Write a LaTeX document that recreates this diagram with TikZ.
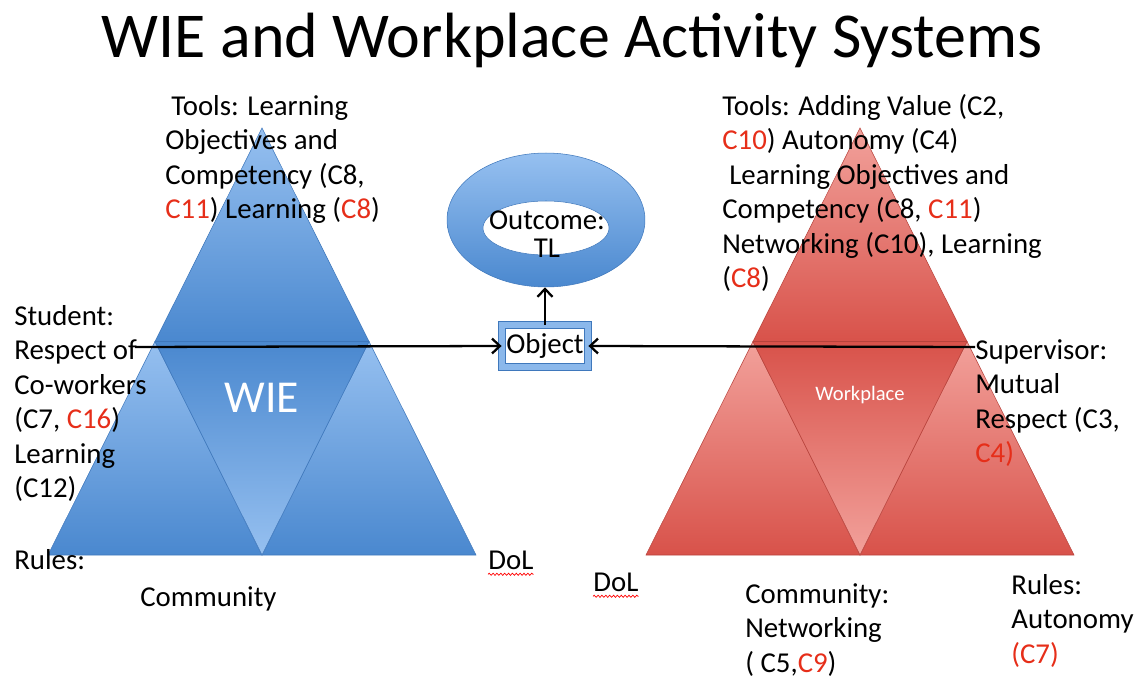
\documentclass[tikz,border=0pt]{standalone}
\usepackage{fontspec}
\setmainfont{Carlito}
\usepackage{xcolor}
\usetikzlibrary{arrows.meta, positioning, shapes.geometric, decorations.pathmorphing}

\definecolor{bluelt}{HTML}{96C0F0}
\definecolor{bluedk}{HTML}{4A88CF}
\definecolor{blueedge}{HTML}{3F78BC}
\definecolor{redlt}{HTML}{F2A19B}
\definecolor{reddk}{HTML}{D8524A}
\definecolor{rededge}{HTML}{B8433C}
\definecolor{cred}{HTML}{E62E19}
\newcommand{\rc}[1]{\textcolor{cred}{#1}}

\tikzset{
  txt/.style={anchor=base west, align=left, inner sep=0pt, font=\fontsize{16.4}{19.6}\selectfont},
  segup/.style={top color=#1lt, bottom color=#1dk, draw=#1edge, line width=0.3pt},
  segdown/.style={top color=#1dk, bottom color=#1lt, draw=#1edge, line width=0.3pt},
  squiggle/.style={red, line width=0.4pt, decorate, decoration={snake, amplitude=0.6pt, segment length=2.2pt}}
}

\begin{document}
\begin{tikzpicture}[x=0.02cm, y=-0.02cm, >={Straight Barb[length=4.5pt,width=8.5pt]}]
\useasboundingbox (0,0) rectangle (1144,679);

\node[font=\fontsize{36.4}{40}\selectfont] (title) at (572,40) {WIE and Workplace Activity Systems};

% WIE triangle
\shade[segup=blue] (262,128) -- (155,341.5) -- (369,341.5) -- cycle;
\shade[segup=blue] (155,341.5) -- (48,555) -- (262,555) -- cycle;
\shade[segup=blue] (369,341.5) -- (262,555) -- (476,555) -- cycle;
\shade[segdown=blue] (155,341.5) -- (369,341.5) -- (262,555) -- cycle;
\node[text=white, font=\fontsize{26}{30}\selectfont] (wie) at (262,398) {WIE};

% Workplace triangle
\shade[segup=red] (860,128) -- (753,341.5) -- (967,341.5) -- cycle;
\shade[segup=red] (753,341.5) -- (646,555) -- (860,555) -- cycle;
\shade[segup=red] (967,341.5) -- (860,555) -- (1074,555) -- cycle;
\shade[segdown=red] (753,341.5) -- (967,341.5) -- (860,555) -- cycle;
\node[text=white, font=\fontsize{11.7}{14}\selectfont] (work) at (860,395) {Workplace};

% outcome and object
\node[ellipse, minimum width=3.96cm, minimum height=2.68cm, top color=bluelt, bottom color=bluedk, draw=blueedge, line width=0.3pt] (outc) at (546,220) {};
\fill[white, draw=blueedge, line width=0.3pt] (546,228) ellipse [x radius=1.26cm, y radius=0.54cm];
\node[align=center, inner sep=0pt, font=\fontsize{16.4}{16}\selectfont] (outtxt) at (547,234) {Outcome:\\TL};
\node[draw=blueedge, double=bluelt!85!bluedk, double distance=3.6pt, line width=0.5pt, fill=white,
  minimum width=1.72cm, minimum height=0.84cm, inner sep=0pt, font=\fontsize{16.4}{19.6}\selectfont] (obj) at (545,346) {Object};

\coordinate (lstart) at (135,347);
\coordinate (rstart) at (975,347);
\draw[->, line width=1.3pt] (lstart) -- (obj.west);
\draw[->, line width=1.3pt] (rstart) -- (obj.east);
\draw[->, line width=1.3pt] (obj.north) -- (obj.north |- outc.south);

% labels WIE
\node[txt] (ltools) at (165,218.5) {\hspace*{0.12cm}Tools: Learning\\Objectives and\\Competency (C8,\\\rc{C11}) Learning (\rc{C8})};
\node[txt] (lsubj) at (14,497.5) {Student:\\Respect of\\Co-workers\\(C7, \rc{C16})\\Learning\\(C12)};
\node[txt] (lrules) at (14,569) {Rules:};
\node[txt] (ldol) at (488,569) {DoL};
\node[txt] (lcomm) at (140,606) {Community};
\draw[squiggle] ([yshift=-3pt]ldol.base west) -- ([yshift=-3pt]ldol.base east);

% labels Workplace
\node[txt] (rtools) at (722,287.5) {Tools: Adding Value (C2,\\\rc{C10}) Autonomy (C4)\\\hspace*{0.14cm}Learning Objectives and\\Competency (C8, \rc{C11})\\Networking (C10), Learning\\(\rc{C8})};
\node[txt] (rsubj) at (975,462.5) {Supervisor:\\Mutual\\Respect (C3,\\\rc{C4)}};
\node[txt] (rdol) at (593,591) {DoL};
\node[txt] (rcomm) at (745,672) {Community:\\Networking\\( C5,\rc{C9})};
\node[txt] (rrules) at (1011,663) {Rules:\\Autonomy\\\rc{(C7)}};
\draw[squiggle] ([yshift=-3pt]rdol.base west) -- ([yshift=-3pt]rdol.base east);
\end{tikzpicture}
\end{document}
